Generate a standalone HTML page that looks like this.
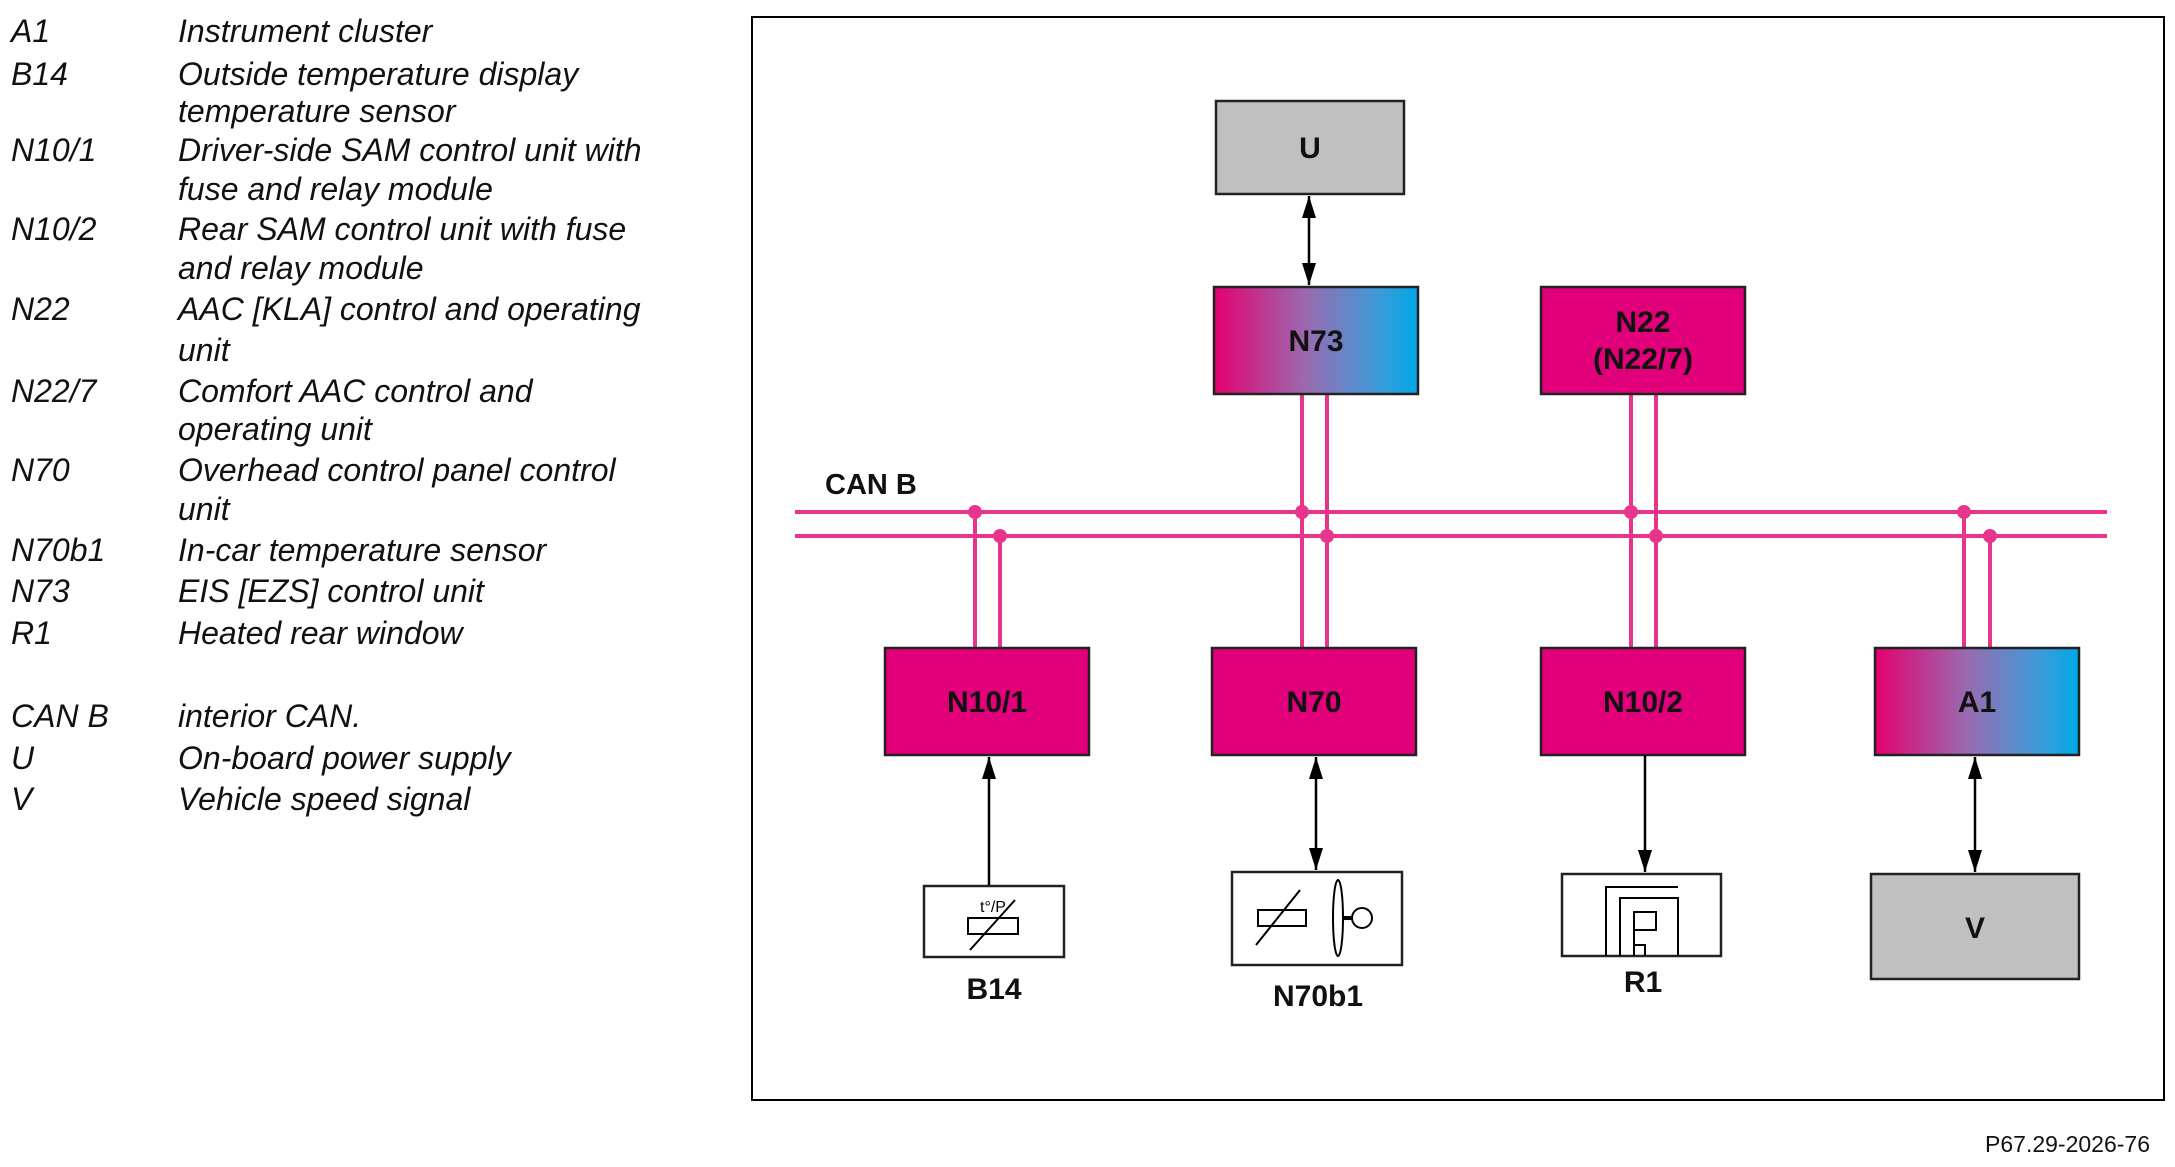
<!DOCTYPE html>
<html><head><meta charset="utf-8"><style>
html,body{margin:0;padding:0;background:#fff;}
svg{display:block;}
.lg{font-family:"Liberation Sans",sans-serif;font-style:italic;font-size:32px;fill:#111;}
.bx{font-family:"Liberation Sans",sans-serif;font-weight:bold;font-size:30px;fill:#111;text-anchor:middle;}
</style></head><body>
<svg width="2175" height="1167" viewBox="0 0 2175 1167" xmlns="http://www.w3.org/2000/svg">
<defs>
<linearGradient id="g" x1="0" x2="1" y1="0" y2="0">
<stop offset="0" stop-color="#e4006f"/><stop offset="0.45" stop-color="#9a6ab0"/><stop offset="0.8" stop-color="#3d9ad8"/><stop offset="1" stop-color="#00a8e8"/>
</linearGradient>
<marker id="ae" viewBox="0 0 22 14" refX="22" refY="7" markerWidth="22" markerHeight="14" orient="auto-start-reverse" markerUnits="userSpaceOnUse"><path d="M0,0 L22,7 L0,14 z" fill="#000"/></marker>
</defs>
<g class="lg">
<text x="11" y="42">A1</text><text x="178" y="42">Instrument cluster</text>
<text x="11" y="85">B14</text><text x="178" y="85">Outside temperature display</text>
<text x="178" y="122">temperature sensor</text>
<text x="11" y="161">N10/1</text><text x="178" y="161">Driver-side SAM control unit with</text>
<text x="178" y="200">fuse and relay module</text>
<text x="11" y="240">N10/2</text><text x="178" y="240">Rear SAM control unit with fuse</text>
<text x="178" y="279">and relay module</text>
<text x="11" y="320">N22</text><text x="178" y="320">AAC [KLA] control and operating</text>
<text x="178" y="361">unit</text>
<text x="11" y="402">N22/7</text><text x="178" y="402">Comfort AAC control and</text>
<text x="178" y="440">operating unit</text>
<text x="11" y="481">N70</text><text x="178" y="481">Overhead control panel control</text>
<text x="178" y="520">unit</text>
<text x="11" y="561">N70b1</text><text x="178" y="561">In-car temperature sensor</text>
<text x="11" y="602">N73</text><text x="178" y="602">EIS [EZS] control unit</text>
<text x="11" y="644">R1</text><text x="178" y="644">Heated rear window</text>
<text x="11" y="727">CAN B</text><text x="178" y="727">interior CAN.</text>
<text x="11" y="769">U</text><text x="178" y="769">On-board power supply</text>
<text x="11" y="810">V</text><text x="178" y="810">Vehicle speed signal</text>
</g>
<rect x="752" y="17" width="1412" height="1083" fill="none" stroke="#000" stroke-width="2"/>
<g stroke="#e8358c" stroke-width="4" fill="none">
<line x1="795" y1="512" x2="2107" y2="512"/><line x1="795" y1="536" x2="2107" y2="536"/>
<line x1="975" y1="512" x2="975" y2="648"/><line x1="1000" y1="536" x2="1000" y2="648"/>
<line x1="1302" y1="394" x2="1302" y2="648"/><line x1="1327" y1="394" x2="1327" y2="648"/>
<line x1="1631" y1="394" x2="1631" y2="648"/><line x1="1656" y1="394" x2="1656" y2="648"/>
<line x1="1964" y1="512" x2="1964" y2="648"/><line x1="1990" y1="536" x2="1990" y2="648"/>
</g>
<g fill="#e8358c">
<circle cx="975" cy="512" r="7"/><circle cx="1000" cy="536" r="7"/>
<circle cx="1302" cy="512" r="7"/><circle cx="1327" cy="536" r="7"/>
<circle cx="1631" cy="512" r="7"/><circle cx="1656" cy="536" r="7"/>
<circle cx="1964" cy="512" r="7"/><circle cx="1990" cy="536" r="7"/>
</g>
<text x="825" y="494" class="bx" style="text-anchor:start;font-size:29px">CAN B</text>
<g stroke="#222" stroke-width="2.5">
<rect x="1216" y="101" width="188" height="93" fill="#c0c0c0"/>
<rect x="1214" y="287" width="204" height="107" fill="url(#g)"/>
<rect x="1541" y="287" width="204" height="107" fill="#e2007a"/>
<rect x="885" y="648" width="204" height="107" fill="#e2007a"/>
<rect x="1212" y="648" width="204" height="107" fill="#e2007a"/>
<rect x="1541" y="648" width="204" height="107" fill="#e2007a"/>
<rect x="1875" y="648" width="204" height="107" fill="url(#g)"/>
<rect x="1871" y="874" width="208" height="105" fill="#c0c0c0"/>
<rect x="924" y="886" width="140" height="71" fill="#fff"/>
<rect x="1232" y="872" width="170" height="93" fill="#fff"/>
<rect x="1562" y="874" width="159" height="82" fill="#fff"/>
</g>
<g class="bx">
<text x="1310" y="158">U</text>
<text x="1316" y="351">N73</text>
<text x="1643" y="332">N22</text>
<text x="1643" y="369">(N22/7)</text>
<text x="987" y="712">N10/1</text>
<text x="1314" y="712">N70</text>
<text x="1643" y="712">N10/2</text>
<text x="1977" y="712">A1</text>
<text x="1975" y="938">V</text>
<text x="994" y="999">B14</text>
<text x="1318" y="1006">N70b1</text>
<text x="1643" y="992">R1</text>
</g>
<g stroke="#000" stroke-width="2.5" fill="none">
<line x1="1309" y1="196" x2="1309" y2="285" marker-start="url(#ae)" marker-end="url(#ae)"/>
<line x1="989" y1="885" x2="989" y2="757" marker-end="url(#ae)"/>
<line x1="1316" y1="757" x2="1316" y2="870" marker-start="url(#ae)" marker-end="url(#ae)"/>
<line x1="1645" y1="755" x2="1645" y2="872" marker-end="url(#ae)"/>
<line x1="1975" y1="757" x2="1975" y2="872" marker-start="url(#ae)" marker-end="url(#ae)"/>
</g>
<g stroke="#000" stroke-width="2" fill="none">
<rect x="968" y="918" width="50" height="16"/>
<line x1="970" y1="950" x2="1015" y2="900"/>
<text x="980" y="912" style="font-family:'Liberation Sans';font-size:16px;fill:#000;stroke:none">t°/P</text>
<rect x="1258" y="910" width="48" height="16"/>
<line x1="1256" y1="945" x2="1300" y2="890"/>
<ellipse cx="1338" cy="918" rx="5" ry="38"/>
<line x1="1343" y1="918" x2="1352" y2="918" stroke-width="4"/>
<circle cx="1362" cy="918" r="10"/>
<path d="M1606 956 V887 H1678 M1620 956 V898 H1678 V955 M1634 956 V912 H1656 V930 H1634 V945 H1645 V956"/>
</g>
<text x="2150" y="1152" style="font-family:'Liberation Sans',sans-serif;font-size:23px;fill:#111;text-anchor:end">P67.29-2026-76</text>
</svg>
</body></html>
